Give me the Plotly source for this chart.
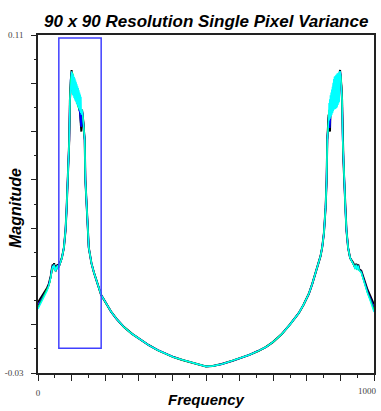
import plotly.graph_objects as go

# ---------------- data ----------------
F_LEFT_TAIL = [0, 7, 14, 20, 27, 32, 35, 38, 41, 44, 46, 48, 50, 52, 54, 56, 58, 62, 66, 71]
CYAN_LEFT_TAIL = [-0.0035, -0.0015, 0.0005, 0.0018, 0.0040, 0.0060, 0.0075, 0.0095, 0.0125, 0.0143,
                  0.0135, 0.0148, 0.0125, 0.0123, 0.0140, 0.0128, 0.0145, 0.0138, 0.0155, 0.0176]
BLACK_LEFT_TAIL = [-0.0008, 0.0008, 0.0024, 0.0034, 0.0052, 0.0068, 0.0082, 0.0102, 0.0130, 0.0150,
                   0.0138, 0.0155, 0.0128, 0.0126, 0.0146, 0.0132, 0.0150, 0.0141, 0.0157, 0.0177]
BLUE_LEFT_TAIL = [-0.0020, -0.0002, 0.0015, 0.0026, 0.0046, 0.0064, 0.0079, 0.0099, 0.0127, 0.0146,
                  0.0136, 0.0151, 0.0126, 0.0124, 0.0143, 0.0130, 0.0147, 0.0139, 0.0156, 0.0176]
GREEN_LEFT_TAIL = [-0.0030, -0.0010, 0.0009, 0.0021, 0.0042, 0.0061, 0.0076, 0.0096, 0.0126, 0.0144,
                   0.0135, 0.0149, 0.0125, 0.0123, 0.0141, 0.0129, 0.0146, 0.0138, 0.0155, 0.0176]

F_RISE_L = [77, 82, 85, 88, 91, 93, 95, 97]
M_RISE_L = [0.0218, 0.0292, 0.0375, 0.0480, 0.0580, 0.0665, 0.0830, 0.0913]

F_NOISE_L = list(range(100, 130))
CYAN_NOISE_L = [0.0950, 0.0858, 0.0944, 0.0852, 0.0938, 0.0846, 0.0932, 0.0839, 0.0926, 0.0833,
                0.0920, 0.0827, 0.0912, 0.0824, 0.0904, 0.0815, 0.0896, 0.0809, 0.0888, 0.0803,
                0.0880, 0.0797, 0.0871, 0.0790, 0.0862, 0.0783, 0.0853, 0.0777, 0.0844, 0.0770]
BLACK_NOISE_L = [0.0955, 0.0900, 0.0935, 0.0880, 0.0920, 0.0870, 0.0905, 0.0860, 0.0895, 0.0850,
                 0.0885, 0.0845, 0.0870, 0.0835, 0.0860, 0.0830, 0.0850, 0.0820, 0.0840, 0.0810,
                 0.0830, 0.0800, 0.0815, 0.0790, 0.0800, 0.0770, 0.0760, 0.0735, 0.0705, 0.0700]
BLUE_NOISE_L = [0.0945, 0.0880, 0.0925, 0.0870, 0.0915, 0.0860, 0.0900, 0.0855, 0.0890, 0.0845,
                0.0880, 0.0840, 0.0865, 0.0830, 0.0855, 0.0825, 0.0845, 0.0815, 0.0835, 0.0805,
                0.0825, 0.0795, 0.0810, 0.0785, 0.0795, 0.0765, 0.0755, 0.0745, 0.0725, 0.0720]
GREEN_NOISE_L = [0.0940, 0.0870, 0.0945, 0.0875, 0.0940, 0.0865, 0.0935, 0.0860, 0.0925, 0.0850,
                 0.0910, 0.0840, 0.0895, 0.0825, 0.0880, 0.0815, 0.0870, 0.0805, 0.0860, 0.0800,
                 0.0850, 0.0795, 0.0840, 0.0790, 0.0825, 0.0785, 0.0810, 0.0780, 0.0790, 0.0780]

F_MID = [131, 133, 135, 137, 139, 141, 144, 149, 151, 155, 159, 166, 174, 181, 188, 200, 218, 235,
         256, 280, 306, 330, 356, 380, 403, 430, 453, 480, 500, 520, 547, 579, 600, 629, 655, 679,
         700, 726, 750, 776, 790, 806, 816, 826, 835, 841, 846, 851, 856, 859, 861, 863]
M_MID = [0.0790, 0.0770, 0.0740, 0.0700, 0.0665, 0.0500, 0.0387, 0.0280, 0.0220, 0.0180, 0.0155,
         0.0118, 0.0085, 0.0052, 0.0023, -0.0005, -0.0047, -0.0078, -0.0110, -0.0138, -0.0163,
         -0.0185, -0.0205, -0.0221, -0.0234, -0.0246, -0.0255, -0.0266, -0.0273, -0.0271, -0.0263,
         -0.0249, -0.0239, -0.0225, -0.0209, -0.0192, -0.0171, -0.0138, -0.0099, -0.0052, -0.0018,
         0.0028, 0.0068, 0.0113, 0.0152, 0.0185, 0.0222, 0.0280, 0.0387, 0.0500, 0.0665, 0.0700]

F_NOISE_R = list(range(865, 900))
CYAN_NOISE_R = [0.0740, 0.0818, 0.0746, 0.0834, 0.0752, 0.0850, 0.0758, 0.0862, 0.0764, 0.0874,
                0.0770, 0.0886, 0.0777, 0.0902, 0.0784, 0.0918, 0.0790, 0.0927, 0.0792, 0.0930,
                0.0794, 0.0933, 0.0796, 0.0936, 0.0798, 0.0940, 0.0803, 0.0942, 0.0810, 0.0944,
                0.0817, 0.0946, 0.0823, 0.0948, 0.0950]
BLACK_NOISE_R = [0.0770, 0.0750, 0.0730, 0.0710, 0.0700, 0.0760, 0.0790, 0.0810, 0.0790, 0.0830,
                 0.0800, 0.0850, 0.0810, 0.0870, 0.0820, 0.0890, 0.0830, 0.0900, 0.0840, 0.0910,
                 0.0850, 0.0915, 0.0855, 0.0920, 0.0860, 0.0925, 0.0870, 0.0930, 0.0880, 0.0935,
                 0.0890, 0.0940, 0.0900, 0.0945, 0.0955]
BLUE_NOISE_R = [0.0760, 0.0740, 0.0725, 0.0715, 0.0730, 0.0770, 0.0785, 0.0820, 0.0790, 0.0840,
                0.0800, 0.0860, 0.0810, 0.0880, 0.0815, 0.0895, 0.0825, 0.0905, 0.0835, 0.0912,
                0.0845, 0.0918, 0.0850, 0.0922, 0.0855, 0.0928, 0.0865, 0.0932, 0.0875, 0.0936,
                0.0885, 0.0940, 0.0895, 0.0944, 0.0950]
GREEN_NOISE_R = [0.0745, 0.0790, 0.0760, 0.0805, 0.0770, 0.0815, 0.0790, 0.0830, 0.0800, 0.0845,
                 0.0800, 0.0860, 0.0800, 0.0875, 0.0800, 0.0890, 0.0805, 0.0900, 0.0805, 0.0910,
                 0.0805, 0.0918, 0.0805, 0.0925, 0.0810, 0.0932, 0.0815, 0.0938, 0.0825, 0.0942,
                 0.0840, 0.0946, 0.0860, 0.0948, 0.0945]

F_FALL_R = [901, 903, 905, 907, 909, 912, 915, 918, 923, 929]
M_FALL_R = [0.0930, 0.0890, 0.0830, 0.0665, 0.0580, 0.0480, 0.0375, 0.0292, 0.0218, 0.0176]

F_RIGHT_TAIL = [938, 941, 944, 947, 950, 953, 956, 962, 968, 974, 981, 988, 994, 1000]
CYAN_RIGHT_TAIL = [0.0155, 0.0143, 0.0130, 0.0148, 0.0126, 0.0144, 0.0124, 0.0116, 0.0088, 0.0056,
                   0.0028, 0.0002, -0.0022, -0.0047]
BLACK_RIGHT_TAIL = [0.0157, 0.0147, 0.0136, 0.0153, 0.0131, 0.0150, 0.0130, 0.0124, 0.0098, 0.0068,
                    0.0044, 0.0022, 0.0003, -0.0016]
BLUE_RIGHT_TAIL = [0.0156, 0.0145, 0.0133, 0.0150, 0.0128, 0.0147, 0.0127, 0.0120, 0.0093, 0.0062,
                   0.0036, 0.0012, -0.0010, -0.0030]
GREEN_RIGHT_TAIL = [0.0155, 0.0144, 0.0131, 0.0149, 0.0127, 0.0145, 0.0125, 0.0118, 0.0090, 0.0058,
                    0.0031, 0.0006, -0.0017, -0.0040]

# highlighted region (frequency / magnitude bounds)
BOX_FREQ = [62, 188]
BOX_MAG = [-0.0197, 0.1088]

X_RANGE = [0, 1000]
Y_RANGE = [-0.03, 0.11]

SERIES = [
    ("black", "#000000", 2.0, BLACK_LEFT_TAIL, BLACK_NOISE_L, BLACK_NOISE_R, BLACK_RIGHT_TAIL),
    ("blue", "#0000ff", 1.7, BLUE_LEFT_TAIL, BLUE_NOISE_L, BLUE_NOISE_R, BLUE_RIGHT_TAIL),
    ("green", "#00ff00", 1.4, GREEN_LEFT_TAIL, GREEN_NOISE_L, GREEN_NOISE_R, GREEN_RIGHT_TAIL),
    ("cyan", "#00ffff", 1.3, CYAN_LEFT_TAIL, CYAN_NOISE_L, CYAN_NOISE_R, CYAN_RIGHT_TAIL),
]

fig = go.Figure()
for name, color, width, lt, nl, nr, rt in SERIES:
    xs = F_LEFT_TAIL + F_RISE_L + F_NOISE_L + F_MID + F_NOISE_R + F_FALL_R + F_RIGHT_TAIL
    ys = lt + M_RISE_L + nl + M_MID + nr + M_FALL_R + rt
    fig.add_trace(go.Scatter(x=xs, y=ys, mode="lines", name=name,
                             line=dict(color=color, width=width), showlegend=False,
                             hoverinfo="skip"))

fig.add_shape(type="rect", xref="x", yref="y",
              x0=BOX_FREQ[0], x1=BOX_FREQ[1], y0=BOX_MAG[0], y1=BOX_MAG[1],
              line=dict(color="#4040ff", width=1.5), fillcolor="rgba(0,0,0,0)")

x_major = list(range(0, 1001, 100))
x_minor = list(range(50, 1000, 100))
y_major = [-0.03, -0.01, 0.01, 0.03, 0.05, 0.07, 0.09, 0.11]
y_minor = [-0.02, 0.0, 0.02, 0.04, 0.06, 0.08, 0.10]

tick_font = dict(family="Liberation Serif, Times New Roman, serif", size=9, color="#444444")
title_family = "Liberation Sans, Arial, Helvetica, sans-serif"

fig.update_layout(
    width=381, height=411,
    margin=dict(l=36, r=5, t=35, b=38),
    paper_bgcolor="white", plot_bgcolor="white",
    xaxis=dict(range=X_RANGE, showgrid=False, zeroline=False,
               showline=True, linecolor="#222222", linewidth=1.5, mirror=True,
               ticks="outside", ticklen=6, tickwidth=1, tickcolor="#222222",
               tickvals=x_major,
               ticktext=["0"] + [""] * (len(x_major) - 1),
               tickfont=tick_font, ticklabelstandoff=4,
               minor=dict(tickvals=x_minor, ticks="outside", ticklen=3, tickcolor="#222222", showgrid=False)),
    yaxis=dict(range=Y_RANGE, showgrid=False, zeroline=False,
               showline=True, linecolor="#222222", linewidth=1.5, mirror=True,
               ticks="outside", ticklen=5, tickwidth=1, tickcolor="#222222",
               tickvals=y_major,
               ticktext=["-0.03", "", "", "", "", "", "", "0.11"],
               tickfont=tick_font, ticklabelstandoff=6,
               minor=dict(tickvals=y_minor, ticks="outside", ticklen=2.5, tickcolor="#222222", showgrid=False)),
)

# right-end x tick label, kept inside the window
fig.add_annotation(text=str(X_RANGE[1]), xref="paper", yref="paper", x=1, xshift=5, y=0, yshift=-18,
                   showarrow=False, font=tick_font, xanchor="right", yanchor="middle")

fig.add_annotation(text="<b><i>90 x 90 Resolution Single Pixel Variance</i></b>",
                   xref="paper", yref="paper", x=0.5, y=1, yshift=14, showarrow=False,
                   font=dict(family=title_family, size=17, color="#000000"),
                   xanchor="center", yanchor="middle")
fig.add_annotation(text="<b><i>Frequency</i></b>",
                   xref="paper", yref="paper", x=0.5, y=0, yshift=-26, showarrow=False,
                   font=dict(family=title_family, size=15, color="#000000"),
                   xanchor="center", yanchor="middle")
fig.add_annotation(text="<b><i>Magnitude</i></b>",
                   xref="paper", yref="paper", x=0, xshift=-23, y=0.5, yshift=-4, showarrow=False,
                   textangle=-90,
                   font=dict(family=title_family, size=16, color="#000000"),
                   xanchor="center", yanchor="middle")

fig.write_html("out.html")
